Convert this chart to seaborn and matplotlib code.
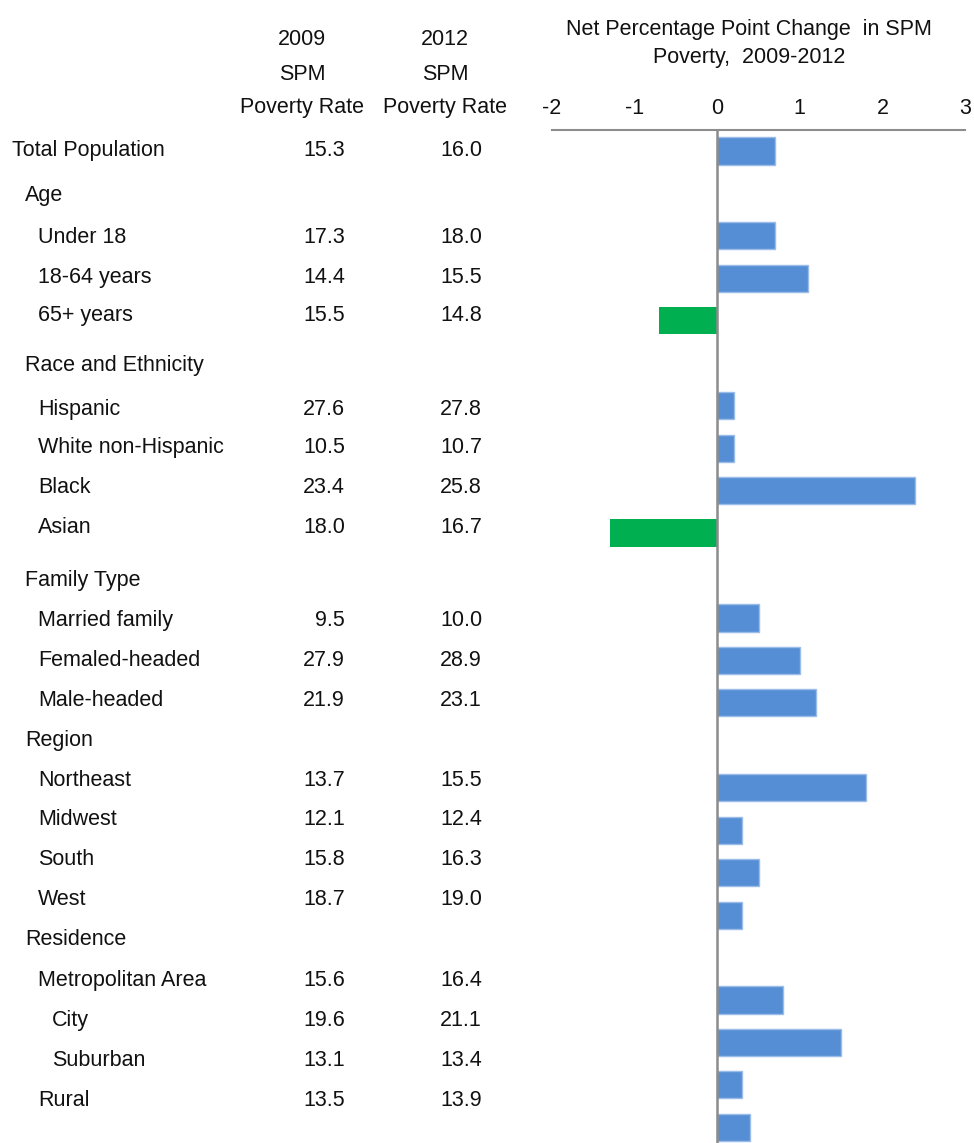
import numpy as np
import pandas as pd
import matplotlib
matplotlib.use("Agg")
import matplotlib.pyplot as plt
from matplotlib import font_manager
import seaborn as sns

# ---- data -------------------------------------------------------------
row_labels = [
    "Total Population", "Age", "Under 18", "18-64 years", "65+ years",
    "Race and Ethnicity", "Hispanic", "White non-Hispanic", "Black", "Asian",
    "Family Type", "Married family", "Femaled-headed", "Male-headed",
    "Region", "Northeast", "Midwest", "South", "West",
    "Residence", "Metropolitan Area", "City", "Suburban", "Rural",
]
indent_level = [0, 1, 2, 2, 2, 1, 2, 2, 2, 2, 1, 2, 2, 2, 1, 2, 2, 2, 2, 1, 2, 3, 3, 2]
rate_2009 = [15.3, None, 17.3, 14.4, 15.5, None, 27.6, 10.5, 23.4, 18.0, None,
             9.5, 27.9, 21.9, None, 13.7, 12.1, 15.8, 18.7, None, 15.6, 19.6, 13.1, 13.5]
rate_2012 = [16.0, None, 18.0, 15.5, 14.8, None, 27.8, 10.7, 25.8, 16.7, None,
             10.0, 28.9, 23.1, None, 15.5, 12.4, 16.3, 19.0, None, 16.4, 21.1, 13.4, 13.9]
net_change = [0.7, np.nan, 0.7, 1.1, -0.7, np.nan, 0.2, 0.2, 2.4, -1.3, np.nan,
              0.5, 1.0, 1.2, np.nan, 1.8, 0.3, 0.5, 0.3, np.nan, 0.8, 1.5, 0.3, 0.4]
x_ticks = [-2, -1, 0, 1, 2, 3]

# ---- layout (pixels) ---------------------------------------------------
W, H = 974, 1143
row_y = [148, 193, 235, 275, 313, 363, 407, 445, 485, 525, 578, 618, 658,
         698, 738, 778, 817, 857, 897, 937, 978, 1018, 1058, 1098]
indent_x = {0: 12, 1: 25, 2: 38, 3: 52}
col2009_right, col2012_right = 345, 482
col2009_center, col2012_center = 302, 445

sns.set_theme(style="white")

# a narrow sans face if one is present, otherwise a slightly smaller regular one
installed = {f.name for f in font_manager.fontManager.ttflist}
if "Liberation Sans Narrow" in installed:
    plt.rcParams["font.family"] = ["Liberation Sans Narrow", "DejaVu Sans"]
    FS = 16.5
else:
    plt.rcParams["font.family"] = ["Liberation Sans", "DejaVu Sans"]
    FS = 15.5
TXT = "#111111"

fig = plt.figure(figsize=(W / 100, H / 100), dpi=100)


def px(x, y):
    return x / W, 1 - y / H


def put(x, y, s, ha="left"):
    fx, fy = px(x, y + FS * 0.49)
    fig.text(fx, fy, s, ha=ha, va="baseline", fontsize=FS, color=TXT)


# table header
for cx, year in ((col2009_center, "2009"), (col2012_center, "2012")):
    put(cx, 37, year, ha="center")
    put(cx, 72, "SPM", ha="center")
    put(cx, 105, "Poverty Rate", ha="center")

# table body
for lab, lvl, y, a, b in zip(row_labels, indent_level, row_y, rate_2009, rate_2012):
    put(indent_x[lvl], y, lab)
    if a is not None:
        put(col2009_right, y, f"{a:.1f}", ha="right")
        put(col2012_right, y, f"{b:.1f}", ha="right")

# chart title
put(749, 27, "Net Percentage Point Change  in SPM", ha="center")
put(749, 55, "Poverty,  2009-2012", ha="center")

# ---- bar chart ----------------------------------------------------------
ax_left, ax_right, ax_top = 552, 965, 130
ax = fig.add_axes([ax_left / W, 0, (ax_right - ax_left) / W, 1 - ax_top / H])

df = pd.DataFrame({
    "group": row_labels,
    "change": net_change,
})
df["direction"] = np.where(df["change"] < 0, "decrease",
                           np.where(df["change"] >= 0, "increase", None))

BLUE, GREEN = "#558ED5", "#00B050"
sns.barplot(data=df, x="change", y="group", hue="direction", order=row_labels,
            hue_order=["increase", "decrease"], palette={"increase": BLUE, "decrease": GREEN},
            dodge=False, width=0.64, orient="h", legend=False, ax=ax,
            saturation=1, linewidth=0)

for p in ax.patches:
    fc = matplotlib.colors.to_hex(p.get_facecolor())
    if fc.lower() == BLUE.lower():
        p.set_edgecolor("#9CBCE8")
        p.set_linewidth(1.0)

slot = 42.45
first = 151
ax.set_ylim((H - first) / slot, (ax_top - first) / slot)
ax.set_xlim(-2, 3)
ax.set_xticks(x_ticks)
ax.set_xticklabels([str(t) for t in x_ticks], fontsize=FS, color=TXT)
ax.tick_params(axis="x", top=True, labeltop=True, bottom=False, labelbottom=False,
               length=0, pad=8.0)
ax.set_yticks([])
ax.set_xlabel("")
ax.set_ylabel("")
for side in ("left", "right", "bottom"):
    ax.spines[side].set_visible(False)
ax.spines["top"].set_color("#8C8C8C")
ax.spines["top"].set_linewidth(1.5)
ax.axvline(0, color="#8C8C8C", lw=1.8, zorder=3)
ax.patch.set_alpha(0)

fig.savefig("out.png", dpi=100)
